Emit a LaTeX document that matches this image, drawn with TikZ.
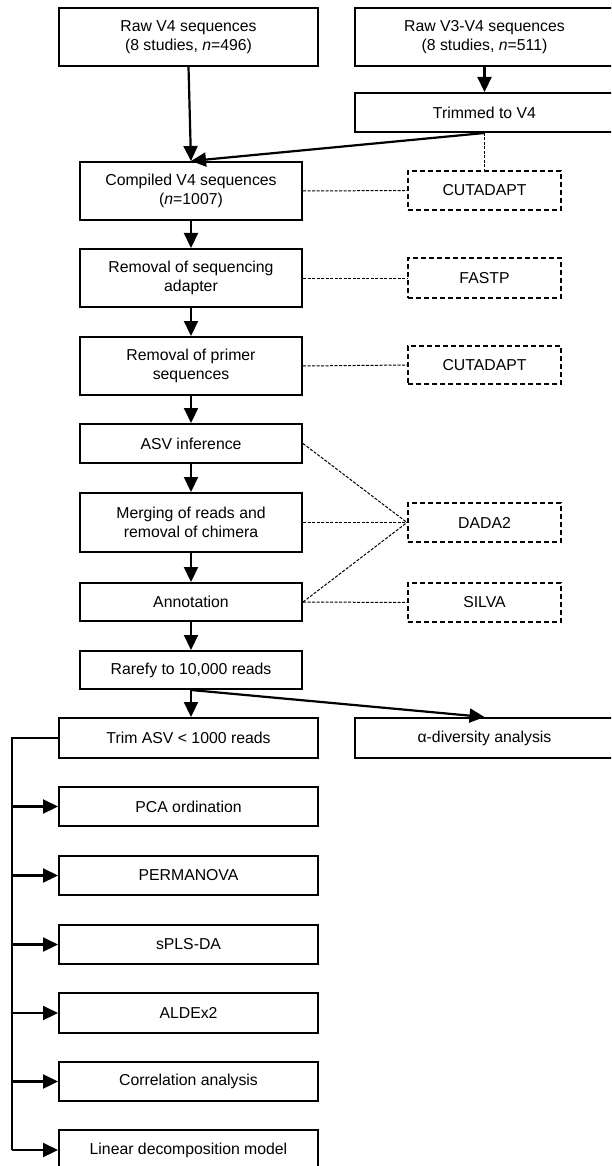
\documentclass[tikz,border=0pt]{standalone}
\usepackage{fontspec}
\setmainfont{Liberation Sans}
\usetikzlibrary{arrows.meta}

\tikzset{
  every node/.style={font=\fontsize{15.8}{19}\selectfont, align=center, inner sep=0pt},
  procbox/.style={draw, line width=2pt, minimum width=222pt},
  widebox/.style={draw, line width=2pt, minimum width=259pt},
  toolbox/.style={draw, line width=2pt, dash pattern=on 5pt off 3pt, minimum width=153pt},
  flow/.style={line width=2.2pt, -{Triangle[length=15pt,width=14pt]}},
  busline/.style={line width=2.2pt, line join=miter},
  link/.style={line width=1pt, dash pattern=on 3pt off 1.5pt},
}

\begin{document}
\begin{tikzpicture}[x=1pt, y=-1pt]
\path[use as bounding box, clip] (0,0) rectangle (611,1166);
\fill[white] (0,0) rectangle (611,1166);

% inputs
\node[widebox, minimum height=58pt] (raw4)  at (188.5,37) {Raw V4 sequences\\(8 studies, \textit{n}=496)};
\node[widebox, minimum height=58pt] (raw34) at (484.5,37) {Raw V3-V4 sequences\\(8 studies, \textit{n}=511)};
\node[widebox, minimum height=39pt] (trimv4) at (484.5,112.5) {Trimmed to V4};

% processing chain
\node[procbox, minimum height=58pt] (comp)   at (191,191)   {Compiled V4 sequences\\(\textit{n}=1007)};
\node[procbox, minimum height=58pt] (adapt)  at (191,278)   {Removal of sequencing\\adapter};
\node[procbox, minimum height=58pt] (primer) at (191,366)   {Removal of primer\\sequences};
\node[procbox, minimum height=39pt] (asv)    at (191,443.5) {ASV inference};
\node[procbox, minimum height=59pt] (merge)  at (191,522.5) {Merging of reads and\\removal of chimera};
\node[procbox, minimum height=38pt] (annot)  at (191,602)   {Annotation};
\node[procbox, minimum height=38pt] (rare)   at (191,670)   {Rarefy to 10,000 reads};

% tools
\node[toolbox, minimum height=39pt] (cut1)  at (484.5,190.5) {CUTADAPT};
\node[toolbox, minimum height=40pt] (fastp) at (484.5,278)   {FASTP};
\node[toolbox, minimum height=38pt] (cut2)  at (484.5,365)   {CUTADAPT};
\node[toolbox, minimum height=39pt] (dada)  at (484.5,522.5) {DADA2};
\node[toolbox, minimum height=39pt] (silva) at (484.5,602.5) {SILVA};

% analyses
\node[widebox, minimum height=40pt] (trimasv) at (188.5,738)    {Trim ASV < 1000 reads};
\node[widebox, minimum height=40pt] (alpha)   at (484.5,738)    {α-diversity analysis};
\node[widebox, minimum height=39pt] (pca)     at (188.5,806.5)  {PCA ordination};
\node[widebox, minimum height=39pt] (perm)    at (188.5,875.5)  {PERMANOVA};
\node[widebox, minimum height=39pt] (spls)    at (188.5,944.5)  {sPLS-DA};
\node[widebox, minimum height=40pt] (aldex)   at (188.5,1013)   {ALDEx2};
\node[widebox, minimum height=39pt] (corr)    at (188.5,1081.5) {Correlation analysis};
\node[widebox, minimum height=40pt] (lin)     at (188.5,1150)   {Linear decomposition model};

% tool links
\draw[link] (trimv4.south) -- (cut1.north);
\draw[link] (comp.east) -- (cut1.west);
\draw[link] (adapt.east) -- (fastp.west);
\draw[link] (primer.east) -- (cut2.west);
\draw[link] (asv.east) -- (dada.west);
\draw[link] (merge.east) -- (dada.west);
\draw[link] (annot.east) -- (dada.west);
\draw[link] (annot.east) -- (silva.west);

% main flow
\draw[flow] (raw4.south) -- (comp.north);
\draw[flow] (raw34.south) -- (trimv4.north);
\draw[flow] (trimv4.south) -- (comp.north);
\draw[flow] (comp.south) -- (adapt.north);
\draw[flow] (adapt.south) -- (primer.north);
\draw[flow] (primer.south) -- (asv.north);
\draw[flow] (asv.south) -- (merge.north);
\draw[flow] (merge.south) -- (annot.north);
\draw[flow] (annot.south) -- (rare.north);
\draw[flow] (rare.south) -- (rare.south |- trimasv.north);
\draw[flow] (rare.south) -- (alpha.north);

% distribution bus
\coordinate (busend) at (12,1150);
\draw[busline] (trimasv.west) -| (busend);
\foreach \b in {pca,perm,spls,aldex,corr,lin}
  \draw[flow] (busend |- \b.west) -- (\b.west);
\end{tikzpicture}
\end{document}
